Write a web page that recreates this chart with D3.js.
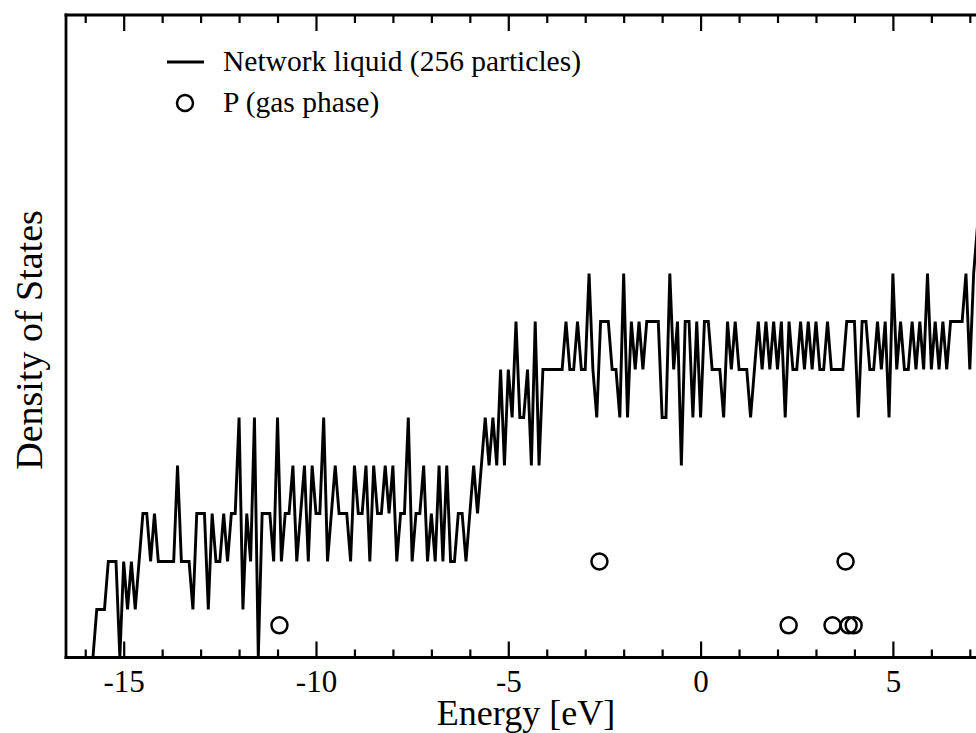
<!DOCTYPE html>
<html>
<head>
<meta charset="utf-8">
<script src="https://cdn.jsdelivr.net/npm/d3@7"></script>
<style>
  html, body { margin: 0; padding: 0; background: #fff; }
  svg { display: block; }
  text { font-family: "Liberation Serif", "Times New Roman", serif; fill: #000; }
</style>
</head>
<body>
<div id="chart"></div>
<script>
// ---- data ----
const binStart = -16.4;   // energy of first histogram bin [eV]
const binWidth = 0.1;     // histogram bin width [eV]
const dosValues = [
  0,0,0,0,0,0,0,                 // -16.4 .. -15.8
  1,1,1,2,2,2,0,                 // -15.7 .. -15.1
  2,1,2,1,2,3,3,2,3,2,           // -15.0 .. -14.1
  2,2,2,2,4,2,2,2,1,3,           // -14.0 .. -13.1
  3,3,1,3,2,2,3,2,3,3,           // -13.0 .. -12.1
  5,1,3,2,5,0,3,3,3,2,           // -12.0 .. -11.1
  5,2,3,3,4,2,3,4,2,4,           // -11.0 .. -10.1
  3,3,5,2,3,4,3,3,3,2,           // -10.0 .. -9.1
  4,3,3,4,2,4,3,3,4,3,           // -9.0 .. -8.1
  4,2,3,3,5,2,3,3,4,2,           // -8.0 .. -7.1
  3,2,4,2,4,2,2,3,3,2,           // -7.0 .. -6.1
  3,4,3,4,5,4,5,4,6,4,           // -6.0 .. -5.1
  6,5,7,5,5,6,4,7,4,6,           // -5.0 .. -4.1
  6,6,6,6,6,7,6,6,7,6,           // -4.0 .. -3.1
  6,8,6,5,7,7,7,6,6,5,           // -3.0 .. -2.1
  8,5,7,6,7,6,7,7,7,7,           // -2.0 .. -1.1
  5,5,8,6,7,4,7,7,5,7,           // -1.0 .. -0.1
  5,7,7,6,6,6,5,7,6,7,           //  0.0 .. 0.9
  6,6,6,5,6,7,6,7,6,7,           //  1.0 .. 1.9
  6,7,5,7,6,6,7,6,7,6,           //  2.0 .. 2.9
  7,6,6,7,6,6,6,6,7,7,           //  3.0 .. 3.9
  7,5,7,7,6,6,7,6,7,5,           //  4.0 .. 4.9
  8,6,7,6,6,7,6,7,6,8,           //  5.0 .. 5.9
  6,7,6,7,6,7,7,7,7,8,           //  6.0 .. 6.9
  6,8,9                          //  7.0 .. 7.2
];
const gasEnergies = [-10.95, -2.63, 2.29, 3.43, 3.77, 3.85, 3.98];
const gasValues   = [0.67, 2, 0.67, 0.67, 2, 0.67, 0.67];
const xMajorTicks = [-15, -10, -5, 0, 5];
const xMinorTicks = [-16,-14,-13,-12,-11,-9,-8,-7,-6,-4,-3,-2,-1,1,2,3,4,6,7];
const legendLabels = ["Network liquid (256 particles)", "P (gas phase)"];
const xTitle = "Energy [eV]";
const yTitle = "Density of States";

(function draw() {
  const W = 976, H = 733;
  const pL = 66, pT = 15, pB = 657.5;
  const pxPerEv = 38.46;
  const pR = pL + 24 * pxPerEv;   // beyond the window

  const x = d3.scaleLinear().domain([-16.5, 7.5]).range([pL, pR]);
  const y = d3.scaleLinear().domain([0, (pB - pT) / 48]).range([pB, pT]);

  const svg = d3.select("#chart").append("svg")
    .attr("width", W).attr("height", H);

  svg.append("defs").append("clipPath").attr("id", "clip")
    .append("rect").attr("x", pL).attr("y", pT)
    .attr("width", pR - pL).attr("height", pB - pT);

  const series = dosValues.map((v, i) => ({ e: binStart + i * binWidth, v }));

  svg.append("path")
    .datum(series)
    .attr("clip-path", "url(#clip)")
    .attr("fill", "none")
    .attr("stroke", "#000")
    .attr("stroke-width", 2.9)
    .attr("stroke-linejoin", "miter")
    .attr("d", d3.line().x(d => x(d.e)).y(d => y(d.v)));

  svg.append("g").selectAll("circle")
    .data(gasEnergies.map((e, i) => ({ e, v: gasValues[i] })))
    .join("circle")
    .attr("cx", d => x(d.e)).attr("cy", d => y(d.v))
    .attr("r", 8)
    .attr("fill", "none").attr("stroke", "#000").attr("stroke-width", 2.5);

  const frame = svg.append("g").attr("stroke", "#000").attr("stroke-width", 2.8).attr("fill", "none");
  frame.append("line").attr("x1", pL).attr("x2", pL).attr("y1", pT - 1.4).attr("y2", pB + 1.4);
  frame.append("line").attr("x1", pL - 1.4).attr("x2", pR).attr("y1", pT).attr("y2", pT);
  frame.append("line").attr("x1", pL - 1.4).attr("x2", pR).attr("y1", pB).attr("y2", pB);

  const majLen = 16, minLen = 8;
  const gB = svg.append("g").attr("transform", `translate(0,${pB})`)
    .call(d3.axisBottom(x).tickValues(xMajorTicks).tickSize(-majLen).tickPadding(12));
  gB.select(".domain").remove();
  gB.selectAll(".tick line").attr("stroke", "#000").attr("stroke-width", 2.2);
  gB.selectAll(".tick text").attr("font-size", 31)
    .text(d => d < 0 ? "-" + Math.abs(d) : String(d));

  const gBm = svg.append("g").attr("transform", `translate(0,${pB})`)
    .call(d3.axisBottom(x).tickValues(xMinorTicks).tickSize(-minLen).tickFormat(""));
  gBm.select(".domain").remove();
  gBm.selectAll(".tick line").attr("stroke", "#000").attr("stroke-width", 2.2);

  const gT = svg.append("g").attr("transform", `translate(0,${pT})`)
    .call(d3.axisTop(x).tickValues(xMajorTicks).tickSize(-majLen).tickFormat(""));
  gT.select(".domain").remove();
  gT.selectAll(".tick line").attr("stroke", "#000").attr("stroke-width", 2.2);
  const gTm = svg.append("g").attr("transform", `translate(0,${pT})`)
    .call(d3.axisTop(x).tickValues(xMinorTicks).tickSize(-minLen).tickFormat(""));
  gTm.select(".domain").remove();
  gTm.selectAll(".tick line").attr("stroke", "#000").attr("stroke-width", 2.2);

  svg.append("text").attr("x", 526).attr("y", 725).attr("text-anchor", "middle")
    .attr("font-size", 36).text(xTitle);
  svg.append("text").attr("transform", "translate(42,340) rotate(-90)")
    .attr("text-anchor", "middle").attr("font-size", 38).text(yTitle);

  const lg = svg.append("g");
  lg.append("line").attr("x1", 167).attr("x2", 204).attr("y1", 62).attr("y2", 62)
    .attr("stroke", "#000").attr("stroke-width", 2.8);
  lg.append("text").attr("x", 223).attr("y", 71).attr("font-size", 29.5).text(legendLabels[0]);
  lg.append("circle").attr("cx", 185).attr("cy", 103).attr("r", 8)
    .attr("fill", "none").attr("stroke", "#000").attr("stroke-width", 2.5);
  lg.append("text").attr("x", 223).attr("y", 112).attr("font-size", 29.5).text(legendLabels[1]);
})();
</script>
</body>
</html>
